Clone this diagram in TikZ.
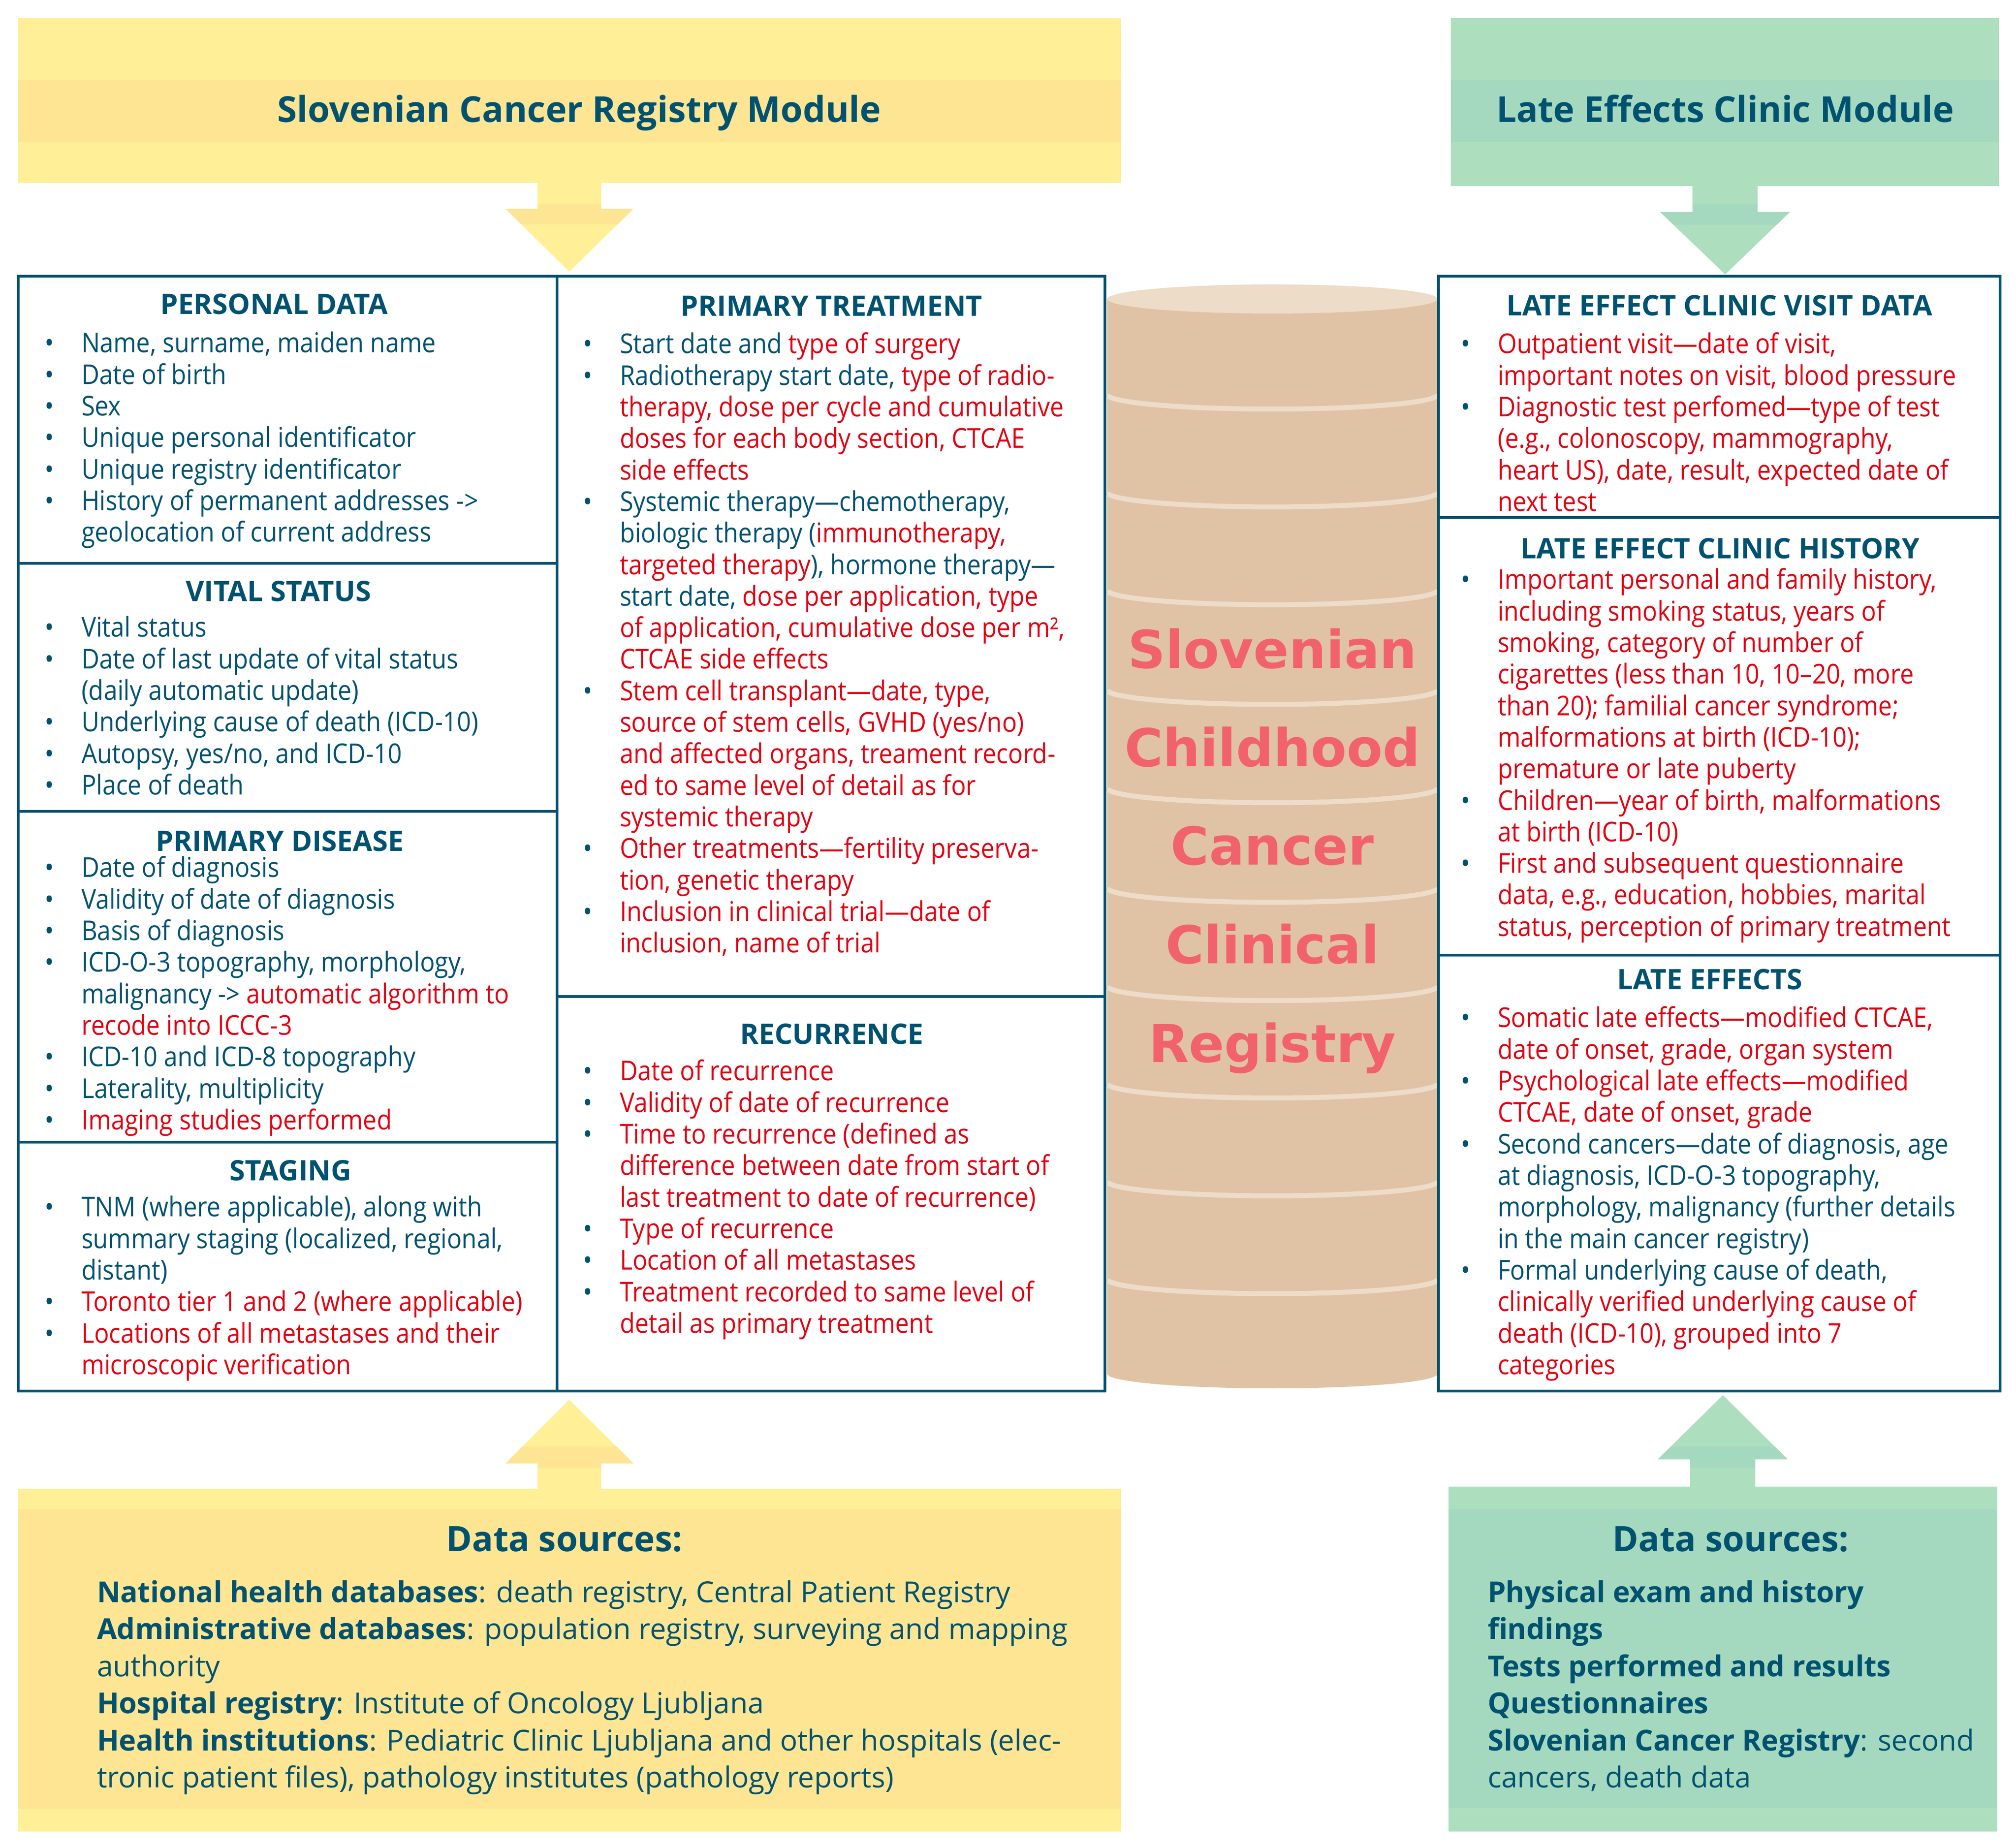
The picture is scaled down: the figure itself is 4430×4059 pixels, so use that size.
\documentclass[tikz,border=0pt]{standalone}
\usepackage{fontspec}
\setmainfont[FakeStretch=0.9]{Open Sans}
\newfontfamily\plainfam{Open Sans}
\newfontfamily\cylfont{DejaVu Sans}
\definecolor{navy}{RGB}{0,82,112}
\definecolor{regred}{RGB}{226,0,18}
\definecolor{ylight}{RGB}{255,239,150}
\definecolor{yband}{RGB}{253,229,148}
\definecolor{glight}{RGB}{173,222,190}
\definecolor{gband}{RGB}{164,217,192}
\definecolor{cylbody}{RGB}{223,195,164}
\definecolor{cyltop}{RGB}{236,220,200}
\definecolor{cyltext}{RGB}{242,98,108}
\newcommand\rtx[1]{\textcolor{regred}{#1}}
\newcommand\bodyfont{\fontsize{12pt}{13.86pt}\selectfont}
\newcommand\dsfont{\plainfam\fontsize{12.7pt}{16.3pt}\selectfont}
\newlength\txtpos
\setlength\txtpos{16.2pt}
\newcommand\bitem[1]{\par\noindent\hangindent=\txtpos\hangafter=1\makebox[\txtpos][l]{\textcolor{navy}{\textbullet}}#1}
\newcommand\seclist[1]{\vtop{\hsize=300pt\parindent=0pt\parskip=0pt\baselineskip=13.86pt\lineskiplimit=-100pt\raggedright #1\par}}
\newcommand\dslist[1]{\vtop{\hsize=500pt\parindent=0pt\parskip=0pt\baselineskip=16.3pt\lineskiplimit=-100pt\raggedright #1\par}}
\begin{document}
\begin{tikzpicture}[x=0.2pt,y=-0.2pt,
  every node/.style={inner sep=0pt, outer sep=0pt, text=navy, font=\bodyfont},
  head/.style={anchor=base, font=\plainfam\bfseries\fontsize{12.4pt}{14pt}\selectfont},
  lst/.style={anchor=base west},
  title/.style={anchor=base, font=\plainfam\bfseries\fontsize{15.7pt}{19pt}\selectfont},
  dstitle/.style={anchor=base, font=\plainfam\bfseries\fontsize{15.4pt}{19pt}\selectfont},
  cyl/.style={anchor=base, text=cyltext, font=\cylfont\bfseries\fontsize{23pt}{27pt}\selectfont},
  frame/.style={draw=navy, line width=1.1pt},
  divline/.style={draw=cyltop, line width=2.2pt}]
\useasboundingbox (0,0) rectangle (4430,4059);
\fill[white] (0,0) rectangle (4430,4059);

% ---------- header boxes ----------
\fill[ylight] (40,39) rectangle (2463,402);
\fill[yband] (40,176) rectangle (2463,312);
\fill[glight] (3188,39) rectangle (4393,409);
\fill[gband] (3188,176) rectangle (4393,312);
\node[title] (ltitle) at (1273,269) {Slovenian Cancer Registry Module};
\node[title] (rtitle) at (3791,269) {Late Effects Clinic Module};

% ---------- block arrows ----------
\begin{scope}
\clip (1181,402) -- (1181,459) -- (1111,459) -- (1251,597) -- (1392,459) -- (1321,459) -- (1321,402) -- cycle;
\fill[ylight] (1100,400) rectangle (1400,600);
\fill[yband] (1100,449) rectangle (1400,493);
\end{scope}
\begin{scope}
\clip (3719,409) -- (3719,466) -- (3648,466) -- (3791,603) -- (3933,466) -- (3862,466) -- (3862,409) -- cycle;
\fill[glight] (3640,405) rectangle (3940,605);
\fill[gband] (3640,449) rectangle (3940,494);
\end{scope}
\begin{scope}
\clip (1181,3272) -- (1181,3216) -- (1111,3216) -- (1251,3076) -- (1392,3216) -- (1321,3216) -- (1321,3272) -- cycle;
\fill[ylight] (1100,3070) rectangle (1400,3275);
\fill[yband] (1100,3179) rectangle (1400,3226);
\end{scope}
\begin{scope}
\clip (3714,3267) -- (3714,3207) -- (3643,3207) -- (3786,3066) -- (3928,3207) -- (3857,3207) -- (3857,3267) -- cycle;
\fill[glight] (3630,3060) rectangle (3940,3270);
\fill[gband] (3630,3179) rectangle (3940,3226);
\end{scope}

% ---------- bottom boxes ----------
\fill[ylight] (40,3272) rectangle (2463,4025);
\fill[yband] (40,3317) rectangle (2463,3975);
\fill[glight] (3183,3267) rectangle (4389,4025);
\fill[gband] (3183,3317) rectangle (4389,3973);

% ---------- cylinder ----------
\fill[cylbody] (2433,657) -- (2433,3019) arc[start angle=180, end angle=0, x radius=363, y radius=32] -- (3159,657) -- cycle;
\fill[cyltop] (2796,657) ellipse[x radius=363, y radius=32];
\foreach \c in {867,1082,1297,1516,1732,1951,2167,2381,2596,2811}
  \draw[divline] (2433,\c) arc[start angle=180, end angle=0, x radius=363, y radius=32];
\node[cyl] (cyl1) at (2796,1469) {Slovenian};
\node[cyl] (cyl2) at (2796,1685) {Childhood};
\node[cyl] (cyl3) at (2796,1901) {Cancer};
\node[cyl] (cyl4) at (2796,2118) {Clinical};
\node[cyl] (cyl5) at (2796,2335) {Registry};

% ---------- frames ----------
\draw[frame] (40,607) rectangle (2428,3057);
\draw[frame] (1224,607) -- (1224,3057);
\draw[frame] (40,1238) -- (1224,1238);
\draw[frame] (40,1783) -- (1224,1783);
\draw[frame] (40,2510) -- (1224,2510);
\draw[frame] (1224,2190) -- (2428,2190);
\draw[frame] (3161,607) rectangle (4395,3057);
\draw[frame] (3161,1137) -- (4395,1137);
\draw[frame] (3161,2099) -- (4395,2099);

% ---------- left column ----------
\node[head] (pdh) at (602,691) {PERSONAL DATA};
\node[lst] (pdl) at (98,775) {\seclist{%
\bitem{Name, surname, maiden name}
\bitem{Date of birth}
\bitem{Sex}
\bitem{Unique personal identificator}
\bitem{Unique registry identificator}
\bitem{History of permanent addresses ->\newline geolocation of current address}}};

\node[head] (vsh) at (612,1322) {VITAL STATUS};
\node[lst] (vsl) at (98,1400) {\seclist{%
\bitem{Vital status}
\bitem{Date of last update of vital status\newline (daily automatic update)}
\bitem{Underlying cause of death (ICD-10)}
\bitem{Autopsy, yes/no, and ICD-10}
\bitem{Place of death}}};

\node[head] (dih) at (615,1871) {PRIMARY DISEASE};
\node[lst] (dil) at (98,1928) {\seclist{%
\bitem{Date of diagnosis}
\bitem{Validity of date of diagnosis}
\bitem{Basis of diagnosis}
\bitem{ICD-O-3 topography, morphology,\newline malignancy -> \rtx{automatic algorithm to}\newline \rtx{recode into ICCC-3}}
\bitem{ICD-10 and ICD-8 topography}
\bitem{Laterality, multiplicity}
\bitem{\rtx{Imaging studies performed}}}};

\node[head] (sth) at (638,2594) {STAGING};
\node[lst] (stl) at (98,2674) {\seclist{%
\bitem{TNM (where applicable), along with\newline summary staging (localized, regional,\newline distant)}
\bitem{\rtx{Toronto tier 1 and 2 (where applicable)}}
\bitem{\rtx{Locations of all metastases and their}\newline \rtx{microscopic verification}}}};

% ---------- middle column ----------
\node[head] (pth) at (1827,695) {PRIMARY TREATMENT};
\node[lst] (ptl) at (1281,777) {\seclist{%
\bitem{Start date and \rtx{type of surgery}}
\bitem{Radiotherapy start date, \rtx{type of radio-}\newline \rtx{therapy, dose per cycle and cumulative}\newline \rtx{doses for each body section, CTCAE}\newline \rtx{side effects}}
\bitem{Systemic therapy—chemotherapy,\newline biologic therapy (\rtx{immunotherapy,}\newline \rtx{targeted therapy}), hormone therapy—\newline start date, \rtx{dose per application, type}\newline \rtx{of application, cumulative dose per m²,}\newline \rtx{CTCAE side effects}}
\bitem{\rtx{Stem cell transplant—date, type,}\newline \rtx{source of stem cells, GVHD (yes/no)}\newline \rtx{and affected organs, treament record-}\newline \rtx{ed to same level of detail as for}\newline \rtx{systemic therapy}}
\bitem{\rtx{Other treatments—fertility preserva-}\newline \rtx{tion, genetic therapy}}
\bitem{\rtx{Inclusion in clinical trial—date of}\newline \rtx{inclusion, name of trial}}}};

\node[head] (reh) at (1828,2295) {RECURRENCE};
\node[lst] (rel) at (1281,2375) {\seclist{%
\bitem{\rtx{Date of recurrence}}
\bitem{\rtx{Validity of date of recurrence}}
\bitem{\rtx{Time to recurrence (defined as}\newline \rtx{difference between date from start of}\newline \rtx{last treatment to date of recurrence)}}
\bitem{\rtx{Type of recurrence}}
\bitem{\rtx{Location of all metastases}}
\bitem{\rtx{Treatment recorded to same level of}\newline \rtx{detail as primary treatment}}}};

% ---------- right column ----------
\node[head] (vdh) at (3778,694) {LATE EFFECT CLINIC VISIT DATA};
\node[lst] (vdl) at (3210,777) {\seclist{%
\bitem{\rtx{Outpatient visit—date of visit,}\newline \rtx{important notes on visit, blood pressure}}
\bitem{\rtx{Diagnostic test perfomed—type of test}\newline \rtx{(e.g., colonoscopy, mammography,}\newline \rtx{heart US), date, result, expected date of}\newline \rtx{next test}}}};

\node[head] (hih) at (3780,1228) {LATE EFFECT CLINIC HISTORY};
\node[lst] (hil) at (3210,1295) {\seclist{%
\bitem{\rtx{Important personal and family history,}\newline \rtx{including smoking status, years of}\newline \rtx{smoking, category of number of}\newline \rtx{cigarettes (less than 10, 10–20, more}\newline \rtx{than 20); familial cancer syndrome;}\newline \rtx{malformations at birth (ICD-10);}\newline \rtx{premature or late puberty}}
\bitem{\rtx{Children—year of birth, malformations}\newline \rtx{at birth (ICD-10)}}
\bitem{\rtx{First and subsequent questionnaire}\newline \rtx{data, e.g., education, hobbies, marital}\newline \rtx{status, perception of primary treatment}}}};

\node[head] (leh) at (3757,2175) {LATE EFFECTS};
\node[lst] (lel) at (3210,2258) {\seclist{%
\bitem{\rtx{Somatic late effects—modified CTCAE,}\newline \rtx{date of onset, grade, organ system}}
\bitem{\rtx{Psychological late effects—modified}\newline \rtx{CTCAE, date of onset, grade}}
\bitem{Second cancers—date of diagnosis, age\newline at diagnosis, ICD-O-3 topography,\newline morphology, malignancy (further details\newline in the main cancer registry)}
\bitem{Formal underlying cause of death,\newline \rtx{clinically verified underlying cause of}\newline \rtx{death (ICD-10), grouped into 7}\newline \rtx{categories}}}};

% ---------- data sources ----------
\node[dstitle] (dslt) at (1240,3409) {Data sources:};
\node[lst, font=\dsfont] (dsl) at (213,3521) {\dslist{%
\textbf{National health databases}: death registry, Central Patient Registry\newline
\textbf{Administrative databases}: population registry, surveying and mapping\newline
authority\newline
\textbf{Hospital registry}: Institute of Oncology Ljubljana\newline
\textbf{Health institutions}: Pediatric Clinic Ljubljana and other hospitals (elec-\newline
tronic patient files), pathology institutes (pathology reports)}};

\node[dstitle] (dsrt) at (3803,3409) {Data sources:};
\node[lst, font=\dsfont] (dsr) at (3269,3521) {\dslist{%
\textbf{Physical exam and history}\newline
\textbf{findings}\newline
\textbf{Tests performed and results}\newline
\textbf{Questionnaires}\newline
\textbf{Slovenian Cancer Registry}: second\newline
cancers, death data}};
\end{tikzpicture}
\end{document}
